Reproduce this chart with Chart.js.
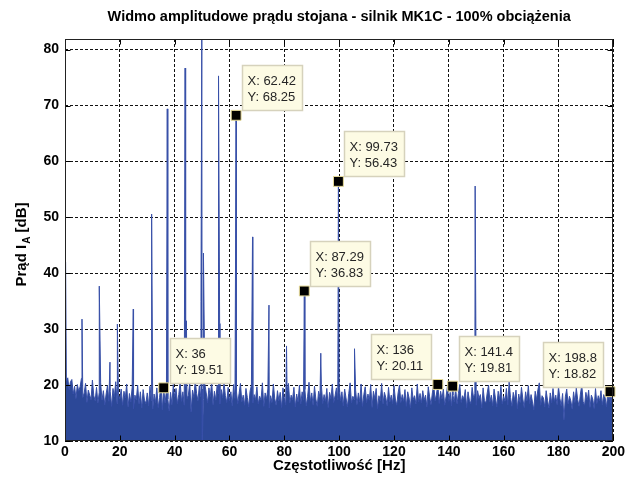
<!DOCTYPE html>
<html>
<head>
<meta charset="utf-8">
<script src="https://cdn.jsdelivr.net/npm/chart.js@4.4.1/dist/chart.umd.min.js"></script>
<style>
  html, body { margin: 0; padding: 0; background: #fff; }
  canvas { display: block; }
</style>
</head>
<body>
<canvas id="spectrumChart" width="628" height="481"></canvas>
<script>
// spectrum noise floor, one value every 0.5 Hz from 0 to 200 Hz
const freqStep = 0.5;
const noiseDb = [
  21.5, 20.8, 21.3, 19.2, 20.6, 21.0, 18.4, 19.8, 17.6, 20.1, 18.9, 19.7, 21.2, 17.8, 18.6, 20.3, 16.9, 19.1, 18.2, 17.4,
  20.9, 18.1, 17.2, 19.6, 16.8, 18.7, 20.4, 17.3, 19.0, 16.5, 18.4, 19.9, 17.1, 18.8, 16.2, 19.4, 17.9, 20.6, 16.7, 18.3,
  17.5, 19.3, 16.4, 18.9, 17.7, 20.2, 16.1, 18.5, 17.0, 19.6, 15.8, 18.2, 17.4, 20.0, 16.6, 18.8, 15.9, 19.2, 17.3, 16.7,
  18.6, 16.3, 19.8, 17.2, 15.7, 18.4, 16.9, 19.5, 16.0, 17.8, 20.3, 15.6, 19.51, 16.8, 19.0, 17.5, 15.4, 18.7, 16.5, 20.1,
  17.9, 19.4, 16.7, 18.3, 20.6, 17.1, 18.8, 16.4, 19.7, 17.6, 18.2, 20.4, 15.2, 19.1, 17.8, 20.8, 18.5, 17.2, 19.9, 18.0,
  19.3, 17.4, 20.2, 18.6, 16.8, 19.5, 17.9, 20.7, 16.5, 18.9, 17.3, 20.0, 18.4, 16.6, 19.2, 17.7, 20.5, 18.1, 16.9, 19.6,
  17.2, 18.8, 16.3, 20.1, 17.6, 19.0, 16.7, 18.5, 20.3, 17.0, 18.2, 16.4, 19.4, 17.8, 16.1, 18.9, 20.0, 16.8, 18.3, 17.4,
  19.7, 16.6, 18.0, 17.3, 20.4, 16.2, 18.6, 17.5, 19.3, 15.9, 18.1, 16.9, 20.2, 17.6, 16.4, 19.0, 17.2, 18.7, 16.0, 19.5,
  17.7, 16.5, 18.9, 20.3, 16.8, 18.2, 17.4, 19.6, 16.1, 18.4, 17.0, 20.0, 16.6, 18.8, 17.3, 19.2, 16.3, 18.0, 20.5, 17.1,
  18.6, 16.4, 19.8, 17.5, 16.2, 18.9, 17.8, 20.1, 16.7, 18.3, 17.1, 19.4, 16.0, 18.7, 17.6, 20.2, 16.9, 18.1, 19.5, 17.4,
  20.0, 17.2, 18.8, 16.3, 19.3, 17.7, 16.1, 18.5, 20.4, 16.8, 18.0, 17.4, 19.1, 16.5, 18.6, 17.0, 20.2, 16.2, 18.3, 19.7,
  16.9, 18.4, 17.3, 20.1, 16.0, 18.9, 17.6, 19.4, 15.8, 18.1, 17.2, 20.3, 16.6, 18.7, 17.8, 16.3, 19.6, 17.0, 18.2, 16.7,
  19.9, 17.5, 16.4, 18.6, 20.0, 16.9, 18.3, 17.1, 19.2, 16.2, 18.8, 17.7, 15.9, 19.5, 17.4, 18.1, 16.6, 20.2, 17.0, 18.5,
  16.8, 19.0, 17.3, 18.2, 16.1, 19.7, 17.9, 16.5, 18.6, 20.0, 17.2, 18.4, 20.11, 16.7, 18.9, 17.5, 19.3, 16.4, 18.0, 19.8,
  17.1, 18.7, 16.3, 18.2, 17.0, 19.4, 16.6, 18.5, 20.1, 16.9, 18.1, 17.5, 19.2, 16.0, 18.8, 17.3, 16.7, 19.6, 17.8, 18.4,
  16.4, 19.0, 17.6, 18.3, 15.9, 19.5, 17.2, 16.8, 18.6, 20.0, 17.0, 18.2, 16.3, 19.3, 17.7, 16.1, 18.9, 17.4, 19.8, 16.6,
  18.0, 17.1, 19.4, 16.5, 20.6, 17.8, 16.2, 18.7, 17.3, 19.1, 15.8, 18.4, 16.9, 19.6, 17.5, 16.0, 18.8, 17.2, 19.9, 16.7,
  18.3, 17.0, 15.6, 18.9, 17.4, 19.2, 20.4, 16.4, 18.1, 17.7, 16.1, 19.0, 17.3, 15.9, 18.6, 16.8, 19.4, 17.1, 18.2, 16.5,
  19.7, 17.6, 16.3, 18.5, 13.8, 17.9, 19.3, 16.6, 18.0, 17.2, 15.7, 18.8, 16.9, 19.5, 17.4, 16.2, 18.4, 20.0, 17.0, 16.4,
  18.7, 17.3, 19.1, 16.0, 18.2, 17.5, 15.8, 19.4, 16.7, 18.1, 17.2, 19.0, 16.5, 18.3, 17.8, 16.1, 18.6, 17.4, 16.9, 18.0,
  17.6
];

// harmonic peaks (and the notch beside 50 Hz)
const peakHz = [0.2, 6.2, 12.5, 16.4, 19.1, 24.9, 31.6, 37.3, 43.8, 44.3, 49.6, 49.9, 50.1, 50.5, 56.0, 56.4, 68.4, 74.4, 80.8, 93.3, 105.6, 149.6];
const peakDb = [42.0, 31.8, 37.7, 24.1, 30.9, 33.6, 50.6, 69.4, 76.7, 31.5, 35.0, 84.0, 10.2, 43.6, 75.3, 31.0, 46.5, 34.3, 27.0, 25.7, 26.5, 55.6];

// data tips
const tipHz = [36, 62.42, 87.29, 99.73, 136, 141.4, 198.8];
const tipDb = [19.51, 68.25, 36.83, 56.43, 20.11, 19.81, 18.82];

// axis ticks
const xTickValues = [0, 20, 40, 60, 80, 100, 120, 140, 160, 180, 200];
const yTickValues = [10, 20, 30, 40, 50, 60, 70, 80];

const chartTitle = 'Widmo amplitudowe prądu stojana - silnik MK1C - 100% obciążenia';
const xTitle = 'Częstotliwość [Hz]';

const narrowBold = (size) => 'bold ' + size + 'px "Liberation Sans Narrow", "Arial Narrow", "Liberation Sans", Arial, sans-serif';

// merge noise floor, peaks and tips into one sorted line
function buildSpectrum() {
  const pts = noiseDb.map((v, i) => ({ x: i * freqStep, y: v }));
  peakHz.forEach((f, i) => pts.push({ x: f, y: peakDb[i] }));
  tipHz.forEach((f, i) => {
    if (!pts.some(p => p.x === f)) pts.push({ x: f, y: tipDb[i] });
  });
  return pts.sort((a, b) => a.x - b.x);
}

// which side of the marker each tip box sits on
const tipSide = ['r', 'r', 'r', 'r', 'l', 'r', 'l'];

const decorPlugin = {
  id: 'decor',
  afterDraw(chart) {
    const { ctx, chartArea: a, scales } = chart;
    const L = Math.round(a.left) + 0.5, R = Math.round(a.right) - 0.5;
    const T = Math.round(a.top) + 0.5, B = Math.round(a.bottom) - 0.5;
    ctx.save();
    ctx.setLineDash([]);
    ctx.strokeStyle = '#000';
    ctx.lineWidth = 1;

    // inner tick marks, matlab style
    ctx.beginPath();
    xTickValues.forEach(v => {
      const x = Math.round(scales.x.getPixelForValue(v)) + 0.5;
      ctx.moveTo(x, B); ctx.lineTo(x, B - 5);
      ctx.moveTo(x, T); ctx.lineTo(x, T + 5);
    });
    yTickValues.forEach(v => {
      const y = Math.round(scales.y.getPixelForValue(v)) + 0.5;
      ctx.moveTo(L, y); ctx.lineTo(L + 5, y);
      ctx.moveTo(R, y); ctx.lineTo(R - 5, y);
    });
    ctx.stroke();

    // frame
    ctx.strokeStyle = '#222';
    ctx.strokeRect(L, T, R - L, B - T);

    // titles
    ctx.fillStyle = '#000';
    ctx.textBaseline = 'middle';
    ctx.textAlign = 'center';
    ctx.font = narrowBold(14.5);
    ctx.fillText(chartTitle, (a.left + a.right) / 2, 17);
    ctx.font = narrowBold(15);
    ctx.fillText(xTitle, (a.left + a.right) / 2, 466);

    // y title with subscript
    ctx.translate(22, 245);
    ctx.rotate(-Math.PI / 2);
    const p1 = 'Prąd I', p2 = 'A', p3 = ' [dB]';
    ctx.font = narrowBold(15);
    const w1 = ctx.measureText(p1).width, w3 = ctx.measureText(p3).width;
    ctx.font = narrowBold(10);
    const w2 = ctx.measureText(p2).width;
    let x0 = -(w1 + w2 + w3) / 2;
    ctx.textAlign = 'left';
    ctx.font = narrowBold(15);
    ctx.fillText(p1, x0, 0);
    ctx.font = narrowBold(10);
    ctx.fillText(p2, x0 + w1 + 1, 5);
    ctx.font = narrowBold(15);
    ctx.fillText(p3, x0 + w1 + w2 + 1, 0);
    ctx.restore();

    // data tip boxes
    ctx.save();
    tipHz.forEach((f, i) => {
      const mx = scales.x.getPixelForValue(f);
      const my = scales.y.getPixelForValue(tipDb[i]);
      const bw = 60, bh = 45;
      const bx = Math.round(tipSide[i] === 'r' ? mx + 6 : mx - 7 - bw) + 0.5;
      const by = Math.round(my - 5 - bh) + 0.5;
      ctx.fillStyle = '#FDFBE4';
      ctx.fillRect(bx, by, bw, bh);
      ctx.strokeStyle = '#D6D2BC';
      ctx.lineWidth = 1.5;
      ctx.strokeRect(bx, by, bw, bh);
      ctx.fillStyle = '#262626';
      ctx.font = '13px "Liberation Sans", Arial, sans-serif';
      ctx.textAlign = 'left';
      ctx.textBaseline = 'middle';
      ctx.fillText('X: ' + f, bx + 5, by + 16);
      ctx.fillText('Y: ' + tipDb[i], bx + 5, by + 31.5);
    });
    ctx.restore();
  }
};

function renderSpectrumChart() {
  const ctx = document.getElementById('spectrumChart').getContext('2d');

  const config = {
    type: 'line',
    data: {
      datasets: [
        {
          label: 'tips',
          data: tipHz.map((f, i) => ({ x: f, y: tipDb[i] })),
          showLine: false,
          pointStyle: 'rect',
          pointRadius: 7,
          pointBackgroundColor: '#000',
          pointBorderColor: '#E6DA98',
          pointBorderWidth: 1,
          clip: false
        },
        {
          label: 'spectrum',
          data: buildSpectrum(),
          borderColor: '#3850A8',
          backgroundColor: '#2C4898',
          borderWidth: 1,
          pointRadius: 0,
          tension: 0,
          fill: 'start'
        }
      ]
    },
    options: {
      responsive: false,
      animation: false,
      layout: { padding: { top: 39, right: 14, left: 0, bottom: 0 } },
      plugins: {
        legend: { display: false },
        title: { display: false },
        tooltip: { enabled: false }
      },
      scales: {
        x: {
          type: 'linear',
          min: 0,
          max: 200,
          afterBuildTicks: scale => { scale.ticks = xTickValues.map(v => ({ value: v })); },
          afterFit: scale => { scale.height = 40; },
          ticks: { color: '#000', font: { family: '"Liberation Sans Narrow", "Liberation Sans", Arial', size: 14, weight: 'bold' }, padding: 3, maxRotation: 0 },
          grid: { color: '#111', lineWidth: 1, drawTicks: false },
          border: { display: false, dash: [3, 2] }
        },
        y: {
          min: 10,
          max: 81.9,
          afterBuildTicks: scale => { scale.ticks = yTickValues.map(v => ({ value: v })); },
          afterFit: scale => { scale.width = 65; },
          ticks: { color: '#000', font: { family: '"Liberation Sans Narrow", "Liberation Sans", Arial', size: 14, weight: 'bold' }, padding: 6 },
          grid: { color: '#111', lineWidth: 1, drawTicks: false },
          border: { display: false, dash: [3, 2] }
        }
      }
    },
    plugins: [decorPlugin]
  };

  new Chart(ctx, config);
}

document.addEventListener('DOMContentLoaded', function() {
  renderSpectrumChart();
});
</script>
</body>
</html>
